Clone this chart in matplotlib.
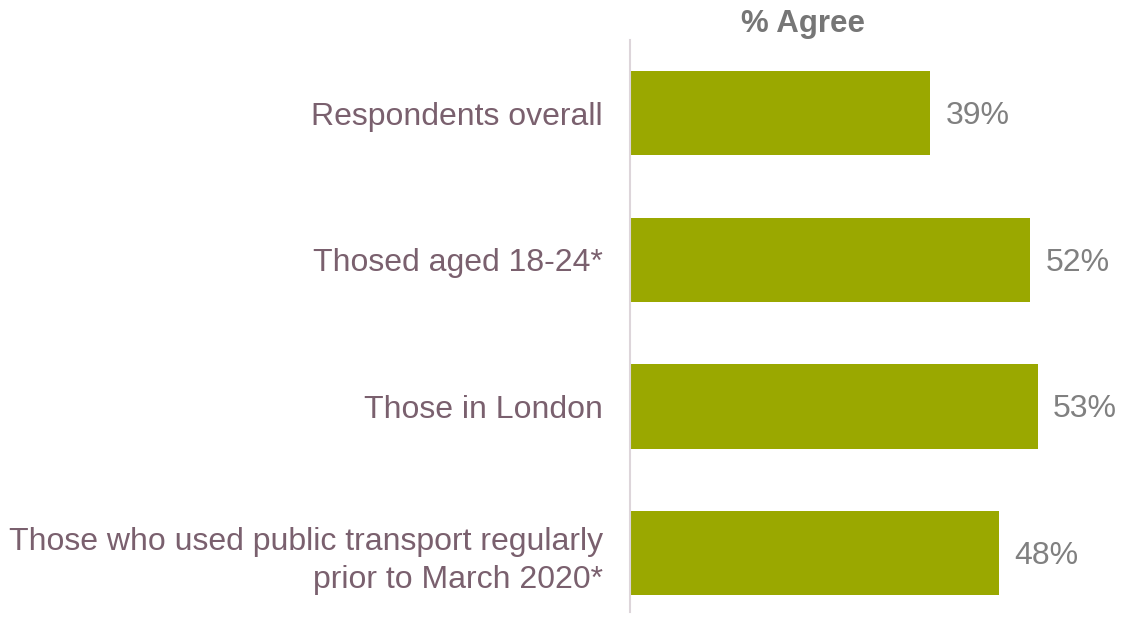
import matplotlib
matplotlib.use("Agg")
import matplotlib.pyplot as plt

categories = ["Respondents overall", "Thosed aged 18-24*", "Those in London",
              "Those who used public transport regularly\nprior to March 2020*"]
values = [39, 52, 53, 48]
value_labels = ["39%", "52%", "53%", "48%"]
title = "% Agree"

plt.rcParams['font.family'] = ['Liberation Sans', 'DejaVu Sans']

W, H = 1123, 619
fig = plt.figure(figsize=(W / 100, H / 100), dpi=100)
ax = fig.add_axes([630 / W, 0, 1 - 630 / W, (H - 40) / H])

ypos = list(range(len(categories)))
ax.barh(ypos, values, height=0.575, color="#9AA800", left=0)
ax.set_xlim(0, 64.1)
ax.set_ylim(3.45, -0.5)

for y, v, lab in zip(ypos, values, value_labels):
    ax.text(v + 2.0, y + 0.02, lab, va="center", ha="left", fontsize=23, color="#808080")

ax.set_yticks(ypos)
ax.set_yticklabels(categories, fontsize=23, color="#7A606E", linespacing=1.35)
ax.tick_params(axis="y", length=0, pad=19.5)
ax.set_xticks([])
for s in ["top", "right", "bottom"]:
    ax.spines[s].set_visible(False)
ax.spines["left"].set_color("#DDD5DA")
ax.spines["left"].set_linewidth(1.5)
ax.spines["left"].set_bounds(3.4, -0.5)
for t in ax.get_yticklabels():
    t.set_ha("right")

fig.text(803 / W, 1 - 24 / H, title, ha="center", va="center", fontsize=22.5,
         fontweight="bold", color="#767676")

fig.savefig("out.png", dpi=100)
